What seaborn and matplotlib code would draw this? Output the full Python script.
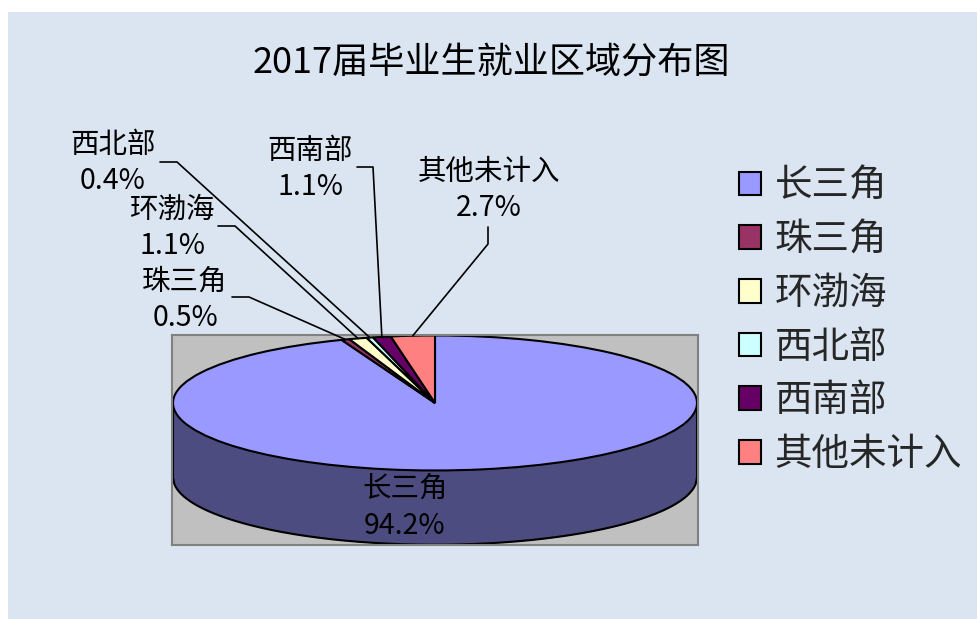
import numpy as np
import seaborn as sns
import matplotlib.pyplot as plt
from matplotlib.lines import Line2D
from matplotlib.patches import Rectangle

# data
regions = ["长三角", "珠三角", "环渤海", "西北部", "西南部", "其他未计入"]
shares = [94.2, 0.5, 1.1, 0.4, 1.1, 2.7]
colors = ["#9999FF", "#993366", "#FFFFCC", "#CCFFFF", "#660066", "#FF8080"]
title = "2017届毕业生就业区域分布图"

# label layout in image pixels (top-left origin): text centre, leader start, leader elbow
label_layout = {
    "长三角": ((405, 508), None, None),
    "珠三角": ((185, 300), (232, 297), (249, 297)),
    "环渤海": ((172, 228), (218, 226), (235, 226)),
    "西北部": ((113, 163), (160, 162), (177, 162)),
    "西南部": ((310, 169), (357, 167), (373, 167)),
    "其他未计入": ((489, 190), (488, 227), (488, 244)),
}

W, H = 977, 619
depth = 1.1  # height of the pie's side in y-radius units

sns.set_theme(style="white")
plt.rcParams["font.family"] = ["Noto Sans CJK SC", "DejaVu Sans"]

fig = plt.figure(figsize=(W / 100, H / 100), dpi=100, facecolor="white")
fig.add_artist(Rectangle((8 / W, 0), 1, 1 - 12 / H, transform=fig.transFigure,
                         facecolor="#DBE5F1", edgecolor="none", zorder=-10))


def fpx(px, py):
    return px / W, 1 - py / H


# plot area (grey box)
ax = fig.add_axes([172 / W, (H - 545) / H, 526 / W, 210 / H])
wedges, _ = ax.pie(
    shares,
    colors=colors,
    startangle=90,
    counterclock=False,
    wedgeprops=dict(edgecolor="black", linewidth=1.5),
)
ax.set_aspect("auto")
ax.set_xlim(-1.0038, 1.0038)
ax.set_ylim(-2.104, 1.007)
ax.set_frame_on(True)
ax.set_facecolor("#C0C0C0")
for s in ax.spines.values():
    s.set_edgecolor("#808080")
    s.set_linewidth(1.5)
ax.set_xticks([])
ax.set_yticks([])

# side of the 3D pie (only the big slice shows at the front)
x = np.linspace(-1, 1, 400)
rim = -np.sqrt(1 - x**2)
ax.fill_between(x, rim - depth, 0, color="#4C4C80", zorder=0.5, linewidth=0)
ax.plot(x, rim - depth, color="black", lw=1.5, zorder=0.6, clip_on=False)
ax.vlines([-1, 1], -depth, 0, color="black", lw=1.5, zorder=0.6)

# labels with leader lines
to_fig = fig.transFigure.inverted()
for w, name, val in zip(wedges, regions, shares):
    (tx, ty), start, elbow = label_layout[name]
    fig.text(*fpx(tx, ty), f"{name}\n{val}%", ha="center", va="center",
             fontsize=20.5, linespacing=1.25, color="black")
    if start is None:
        continue
    mid = np.deg2rad((w.theta1 + w.theta2) / 2)
    tip = to_fig.transform(ax.transData.transform((np.cos(mid), np.sin(mid))))
    xs = [fpx(*start)[0], fpx(*elbow)[0], tip[0]]
    ys = [fpx(*start)[1], fpx(*elbow)[1], tip[1]]
    fig.add_artist(Line2D(xs, ys, transform=fig.transFigure, color="black", lw=1.2))

fig.text(*fpx(491, 63), title, ha="center", va="center", fontsize=26, color="black")

fig.legend(
    wedges,
    regions,
    loc="upper left",
    bbox_to_anchor=fpx(720, 148),
    frameon=False,
    fontsize=27,
    handlelength=0.6,
    handleheight=0.6,
    handletextpad=0.36,
    labelspacing=0.39,
    borderpad=0,
)

fig.savefig("out.png", dpi=100, facecolor=fig.get_facecolor())
